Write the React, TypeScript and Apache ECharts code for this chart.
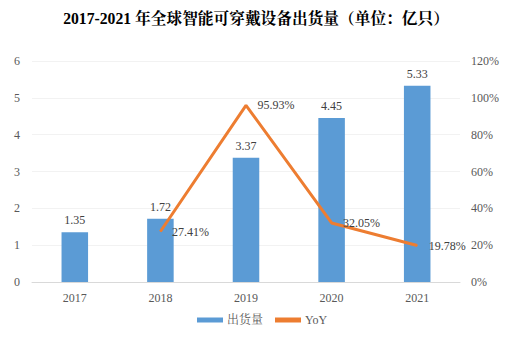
import React, { useEffect, useRef } from "react";
import * as echarts from "echarts";

const categories = ["2017", "2018", "2019", "2020", "2021"];
const shipments = [1.35, 1.72, 3.37, 4.45, 5.33];
const yoy = [null, 27.41, 95.93, 32.05, 19.78];
const title = "2017-2021 年全球智能可穿戴设备出货量（单位：亿只）";

const serif = "Liberation Serif, Noto Serif CJK SC, Noto Sans CJK SC, serif";

export default function App() {
  const ref = useRef<HTMLDivElement>(null);
  useEffect(() => {
    const chart = echarts.init(ref.current!, null, { renderer: "svg" });
    chart.setOption({
      animation: false,
      backgroundColor: "#ffffff",
      title: {
        text: title,
        left: "center",
        top: 6,
        textStyle: { fontFamily: serif, fontSize: 15.7, fontWeight: "bold", color: "#000" },
      },
      legend: {
        bottom: 7,
        left: 192,
        itemWidth: 26,
        itemHeight: 5,
        itemGap: 12,
        textStyle: { fontFamily: serif, fontSize: 12, color: "#595959", padding: [0, 0, 0, -1] },
        data: [
          { name: "出货量", icon: "rect" },
          { name: "YoY", icon: "rect" },
        ],
      },
      grid: { left: 32, right: 52, top: 61, bottom: 56 },
      xAxis: {
        type: "category",
        data: categories,
        axisLine: { lineStyle: { color: "#d9d9d9" } },
        axisTick: { show: false },
        axisLabel: { fontFamily: serif, fontSize: 12, color: "#595959", margin: 10 },
      },
      yAxis: [
        {
          type: "value",
          min: 0,
          max: 6,
          interval: 1,
          axisLine: { show: false },
          axisTick: { show: false },
          splitLine: { lineStyle: { color: "#f2f2f2" } },
          axisLabel: { fontFamily: serif, fontSize: 12, color: "#595959", margin: 12 },
        },
        {
          type: "value",
          min: 0,
          max: 120,
          interval: 20,
          axisLine: { show: false },
          axisTick: { show: false },
          splitLine: { show: false },
          axisLabel: { fontFamily: serif, fontSize: 12, color: "#595959", margin: 11, formatter: "{value}%" },
        },
      ],
      series: [
        {
          name: "出货量",
          type: "bar",
          data: shipments,
          barWidth: "31%",
          itemStyle: { color: "#5B9BD5" },
          label: {
            show: true,
            position: "top",
            distance: 6,
            fontFamily: serif,
            fontSize: 12,
            color: "#404040",
          },
        },
        {
          name: "YoY",
          type: "line",
          yAxisIndex: 1,
          data: yoy,
          symbol: "circle",
          symbolSize: 1,
          showSymbol: true,
          lineStyle: { color: "#ED7D31", width: 3 },
          itemStyle: { color: "#ED7D31" },
          label: {
            show: true,
            position: "right",
            distance: 11,
            fontFamily: serif,
            fontSize: 12,
            color: "#404040",
            formatter: (p: any) => (p.value == null ? "" : Number(p.value).toFixed(2) + "%"),
          },
        },
      ],
    });
    return () => chart.dispose();
  }, []);
  return (
    <div
      ref={ref}
      style={{ position: "fixed", left: 0, top: 0, width: 512, height: 338 }}
    />
  );
}
